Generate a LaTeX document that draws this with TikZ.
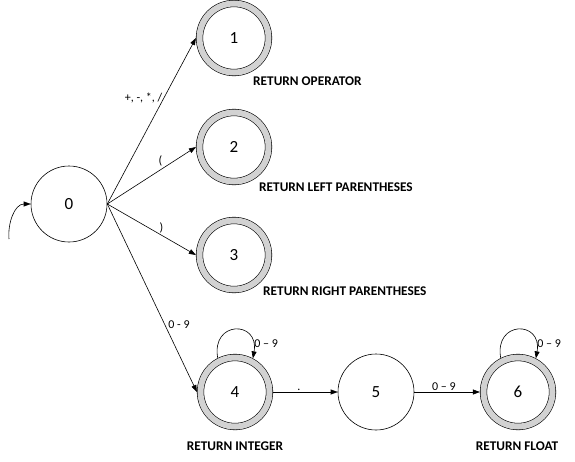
\documentclass[tikz,border=0pt]{standalone}
\usepackage{fontspec}
\setmainfont{Carlito}
\usepackage{tikz}
\usetikzlibrary{arrows.meta}

\begin{document}
\begin{tikzpicture}[
  x=1pt, y=-1pt,
  state/.style={draw, circle, minimum size=76pt, inner sep=0pt, line width=0.6pt,
                font=\fontsize{17}{20}\selectfont},
  accept/.style={state, minimum size=69pt, double=gray!35, double distance=6pt,
                 outer sep=3.6pt},
  tag/.style={font=\bfseries\fontsize{13.3}{15}\selectfont, inner sep=0pt},
  lbl/.style={font=\fontsize{12}{14}\selectfont, inner sep=1.5pt},
  every edge/.style={draw, line width=0.6pt, -{Triangle[length=7pt, width=5pt]}},
]
\useasboundingbox (0,0) rectangle (575,461);

\node[state]  (s0) at (69,204) {0};
\node[accept] (s1) at (234,38)  {1};
\node[accept] (s2) at (234,147) {2};
\node[accept] (s3) at (234,255) {3};
\node[accept] (s4) at (235,392) {4};
\node[state]  (s5) at (376,392) {5};
\node[accept] (s6) at (518,392) {6};

\node[tag, anchor=west] (t1) at (253,81)  {RETURN OPERATOR};
\node[tag, anchor=west] (t2) at (259,187) {RETURN LEFT PARENTHESES};
\node[tag, anchor=west] (t3) at (263,291) {RETURN RIGHT PARENTHESES};
\node[tag] (t4) at (235,446) {RETURN INTEGER};
\node[tag] (t6) at (517,446) {RETURN FLOAT};

% start arrow
\coordinate (init) at (9,239);
\draw (init) edge[out=95, in=180] (s0.west);

% transitions out of 0
\draw (s0.east) edge node[lbl, pos=0.64, left=0pt] {+, -, *, /} (s1.west);
\draw (s0.east) edge node[lbl, pos=0.6, above=2pt] {(} (s2.west);
\draw (s0.east) edge node[lbl, pos=0.61, above=0pt] {)} (s3.west);
\draw (s0.east) edge node[lbl, pos=0.64, right=2pt] {0 - 9} (s4.west);

% number part
\draw (s4.117) edge[out=100, in=80, looseness=2.8] node[lbl, pos=0.85, right] {0 – 9} (s4.62);
\draw (s4) edge node[lbl, pos=0.4, above] {.} (s5);
\draw (s5) edge node[lbl, pos=0.45, above] {0 – 9} (s6);
\draw (s6.117) edge[out=100, in=80, looseness=2.8] node[lbl, pos=0.85, right] {0 – 9} (s6.62);
\end{tikzpicture}
\end{document}
